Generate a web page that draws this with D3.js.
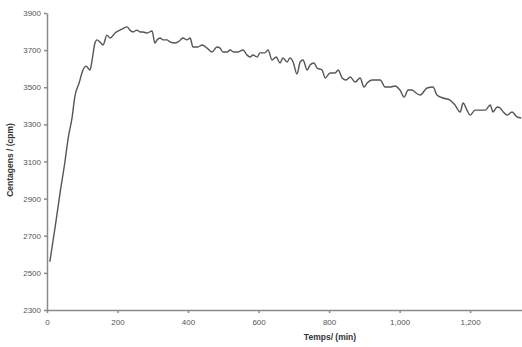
<!DOCTYPE html>
<html lang="en">
<head>
    <meta charset="UTF-8">
    <title>Centagens vs Temps</title>
    <script src="https://d3js.org/d3.v7.min.js"></script>
    <style>
        body { margin: 0; background: #fff; }
        .axis path, .axis line { stroke: #8a8a8a; stroke-width: 1.5px; }
        .axis text { font-family: "Liberation Sans", Arial, sans-serif; font-size: 8px; fill: #555; }
        .title { font-family: "Liberation Sans", Arial, sans-serif; font-size: 8.5px; font-weight: bold; fill: #333; }
        .curve { fill: none; stroke: #555; stroke-width: 1.4px; stroke-linejoin: round; }
    </style>
</head>
<body>
    <svg width="522" height="347"></svg>
    <script>
        // time (min) and counts (cpm)
        const temps = [8, 23, 37, 51, 60, 71, 79, 91, 102, 111, 122, 128, 136, 142, 150, 159, 170, 179, 193, 207,
            218, 227, 235, 244, 255, 264, 272, 284, 298, 306, 312, 321, 329, 340, 349, 363, 372, 386, 397, 406,
            414, 428, 440, 454, 468, 482, 491, 499, 511, 519, 530, 542, 556, 567, 576, 584, 596, 604, 618, 627,
            638, 650, 661, 669, 681, 689, 698, 709, 718, 726, 738, 746, 757, 766, 780, 789, 803, 817, 826, 837,
            848, 860, 874, 888, 899, 908, 922, 936, 945, 959, 973, 987, 1001, 1013, 1024, 1035, 1047, 1058, 1078, 1095,
            1106, 1123, 1143, 1157, 1172, 1180, 1191, 1200, 1214, 1228, 1243, 1257, 1265, 1277, 1285, 1294, 1305, 1319, 1333, 1345];
        const cpm = [2560, 2747, 2930, 3100, 3225, 3335, 3450, 3523, 3593, 3614, 3593, 3647, 3738, 3755, 3744, 3728, 3781, 3765, 3792, 3808,
            3819, 3825, 3808, 3798, 3808, 3798, 3798, 3792, 3803, 3738, 3755, 3765, 3755, 3755, 3744, 3738, 3744, 3765, 3755, 3765,
            3717, 3717, 3728, 3711, 3690, 3717, 3711, 3690, 3690, 3701, 3690, 3690, 3701, 3674, 3663, 3674, 3663, 3685, 3685, 3701,
            3647, 3663, 3631, 3658, 3636, 3658, 3636, 3571, 3636, 3647, 3593, 3620, 3631, 3604, 3593, 3550, 3577, 3577, 3593, 3550,
            3539, 3555, 3528, 3550, 3501, 3523, 3539, 3539, 3539, 3501, 3501, 3507, 3485, 3447, 3485, 3485, 3469, 3458, 3496, 3501,
            3458, 3442, 3431, 3404, 3367, 3415, 3377, 3350, 3377, 3377, 3377, 3404, 3367, 3394, 3388, 3367, 3350, 3367, 3340, 3334];
        const xTicks = [0, 200, 400, 600, 800, 1000, 1200];
        const yTicks = [2300, 2500, 2700, 2900, 3100, 3300, 3500, 3700, 3900];

        const svg = d3.select("svg");
        const plotLeft = 47, plotRight = 523, plotTop = 13, plotBottom = 310;

        const x = d3.scaleLinear().domain([0, 1350]).range([plotLeft, plotRight]);
        const y = d3.scaleLinear().domain([2300, 3900]).range([plotBottom, plotTop]);

        const points = temps.map((t, i) => [t, cpm[i]]);

        // y axis
        svg.append("g")
            .attr("class", "axis")
            .attr("transform", `translate(${plotLeft},0)`)
            .call(d3.axisLeft(y).tickValues(yTicks).tickSize(3).tickSizeOuter(0).tickPadding(3)
                .tickFormat(d3.format("d")));

        // x axis
        svg.append("g")
            .attr("class", "axis")
            .attr("transform", `translate(0,${plotBottom})`)
            .call(d3.axisBottom(x).tickValues(xTicks).tickSize(3).tickSizeOuter(0).tickPadding(6)
                .tickFormat(d3.format(",")));

        svg.append("path")
            .datum(points)
            .attr("class", "curve")
            .attr("d", d3.line().x(d => x(d[0])).y(d => y(d[1])).curve(d3.curveMonotoneX));

        svg.append("text")
            .attr("class", "title")
            .attr("text-anchor", "middle")
            .attr("transform", "translate(13,160) rotate(-90)")
            .text("Centagens / (cpm)");

        svg.append("text")
            .attr("class", "title")
            .attr("text-anchor", "middle")
            .attr("x", 330)
            .attr("y", 340)
            .text("Temps/ (min)");
    </script>
</body>
</html>
